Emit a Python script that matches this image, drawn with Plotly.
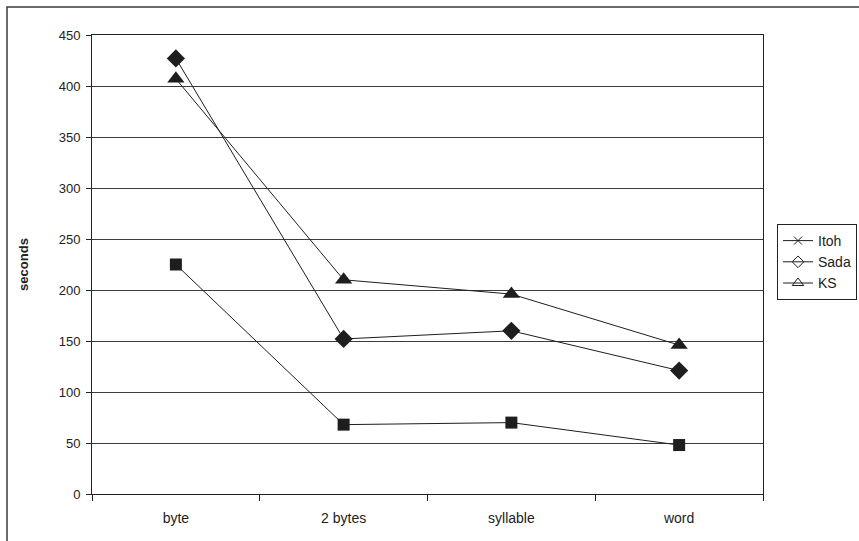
import plotly.graph_objects as go

# Segmentation unit on the x axis
categories = ["byte", "2 bytes", "syllable", "word"]

# Run time in seconds per method
itoh = [225, 68, 70, 48]
sada = [427, 152, 160, 121]
ks = [407, 210, 196, 146]

y_ticks = list(range(0, 451, 50))

series = [
    ("Itoh", itoh, "square", "x-thin-open", 12, 8),
    ("Sada", sada, "diamond", "diamond-open", 14, 9),
    ("KS", ks, "triangle-up", "triangle-up-open", 15, 10),
]

fig = go.Figure()

ink = "#1e1e1e"
for name, vals, sym, leg_sym, size, leg_size in series:
    # plotted series (filled markers)
    fig.add_trace(go.Scatter(
        x=categories, y=vals, mode="lines+markers", name=name,
        showlegend=False, legendgroup=name,
        line=dict(color=ink, width=1),
        marker=dict(symbol=sym, size=size, color=ink, line=dict(width=0)),
    ))
    # legend key (open markers)
    fig.add_trace(go.Scatter(
        x=[None], y=[None], mode="lines+markers", name=name,
        legendgroup=name, showlegend=True,
        line=dict(color=ink, width=1),
        marker=dict(symbol=leg_sym, size=leg_size, color=ink,
                    line=dict(color=ink, width=1)),
    ))

W, H = 859, 541
L, R, T, B = 92, 96, 35, 47
pw, ph = W - L - R, H - T - B

def px_x(x):
    return (x - L) / pw

def px_y(y):
    return (H - B - y) / ph

fig.add_shape(type="rect", xref="paper", yref="paper",
              x0=px_x(7), x1=px_x(900), y0=px_y(580), y1=px_y(7),
              line=dict(color="#3a3a3a", width=1.5), layer="below")

font = "Liberation Sans, Arial, sans-serif"
fig.update_layout(
    width=W, height=H,
    margin=dict(l=L, r=R, t=T, b=B, autoexpand=False),
    paper_bgcolor="white", plot_bgcolor="white",
    font=dict(family=font, size=13, color="#222"),
    legend=dict(
        x=px_x(777), y=px_y(224), xanchor="left", yanchor="top",
        bordercolor="#222", borderwidth=1, bgcolor="white",
        font=dict(family=font, size=14, color="#222"),
        itemwidth=30, tracegroupgap=0,
    ),
    xaxis=dict(
        type="category", range=[-0.5, 3.5],
        tickson="boundaries", ticks="outside", ticklen=6, tickcolor="#222",
        showline=True, linecolor="#222", linewidth=1, mirror=True,
        showgrid=False, tickfont=dict(size=14, color="#222"),
        ticklabelstandoff=11,
        fixedrange=True,
    ),
    yaxis=dict(
        range=[0, 450], tickvals=y_ticks,
        ticks="outside", ticklen=5, tickcolor="#222",
        showline=True, linecolor="#222", linewidth=1, mirror=True,
        showgrid=True, gridcolor="#3c3c3c", gridwidth=1, zeroline=False,
        tickfont=dict(size=13, color="#222"),
        ticklabelstandoff=3,
        title=dict(text="<b>seconds</b>", font=dict(size=13, color="#222"), standoff=27),
    ),
)

fig.write_html("out.html")
